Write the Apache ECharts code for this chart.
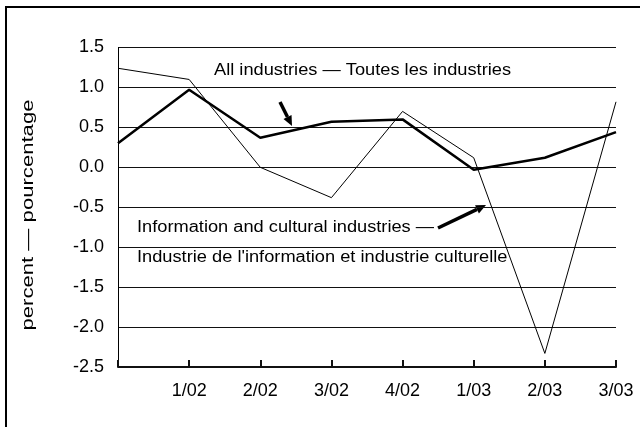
<!DOCTYPE html>
<html>
<head>
<meta charset="utf-8">
<script src="https://cdn.jsdelivr.net/npm/echarts@6/dist/echarts.min.js"></script>
<style>
  html, body { margin: 0; padding: 0; background: #fff; }
  #chart { width: 640px; height: 427px; }
</style>
</head>
<body>
<div id="chart"></div>
<script>
// quarters (first one has no label on the axis)
var quarters = ['4/01', '1/02', '2/02', '3/02', '4/02', '1/03', '2/03', '3/03'];
// All industries — Toutes les industries
var allIndustries = [0.30, 0.97, 0.37, 0.57, 0.60, -0.03, 0.12, 0.44];
// Information and cultural industries
var infoCultural = [1.24, 1.10, 0.00, -0.38, 0.70, 0.12, -2.33, 0.82];

var font = '"Liberation Sans", Arial, sans-serif';

// arrow made of a line + triangle head
function arrow(x1, y1, x2, y2) {
  var dx = x2 - x1, dy = y2 - y1;
  var len = Math.sqrt(dx * dx + dy * dy);
  var ux = dx / len, uy = dy / len;
  var hl = 10, hw = 4.5;
  var bx = x2 - ux * hl, by = y2 - uy * hl;
  return [
    { type: 'line', shape: { x1: x1, y1: y1, x2: bx, y2: by },
      style: { stroke: '#000', lineWidth: 3.5 } },
    { type: 'polygon', shape: { points: [[x2, y2], [bx - uy * hw, by + ux * hw], [bx + uy * hw, by - ux * hw]] },
      style: { fill: '#000' } }
  ];
}

function note(txt, x, y) {
  return { type: 'text', x: x, y: y, scaleX: 1.14,
    style: { text: txt, fill: '#000', font: '16px ' + font, textVerticalAlign: 'middle' } };
}

var myChart = echarts.init(document.getElementById('chart'));
var option = {
  animation: false,
  grid: { left: 118, right: 24, top: 47.5, bottom: 60 },
  xAxis: {
    type: 'category',
    boundaryGap: false,
    data: quarters,
    z: 5,
    axisLine: { show: true, onZero: false, lineStyle: { color: '#111', width: 2 } },
    axisTick: { show: true, inside: true, length: 7, lineStyle: { color: '#111', width: 2 } },
    axisLabel: {
      color: '#000', fontSize: 18, fontFamily: font, margin: 15,
      formatter: function (v, i) { return i === 0 ? '' : v; }
    },
    splitLine: { show: false }
  },
  yAxis: {
    type: 'value',
    min: -2.5, max: 1.5, interval: 0.5,
    axisLine: { show: true, lineStyle: { color: '#000', width: 1 } },
    axisTick: { show: false },
    axisLabel: {
      color: '#000', fontSize: 18, fontFamily: font, margin: 14,
      formatter: function (v) { return v.toFixed(1); }
    },
    splitLine: { lineStyle: { color: '#111', width: 1 } }
  },
  series: [
    {
      name: 'Information and cultural industries',
      type: 'line', data: infoCultural, symbol: 'none',
      lineStyle: { color: '#000', width: 1 }
    },
    {
      name: 'All industries',
      type: 'line', data: allIndustries, symbol: 'none',
      lineStyle: { color: '#000', width: 2.5 },
      // bottom baseline of the plot at the axis minimum
      markLine: {
        silent: true, symbol: 'none', label: { show: false },
        lineStyle: { color: '#000', width: 2, type: 'solid' },
        data: [{ yAxis: -2.5 }]
      }
    }
  ],
  graphic: [
    // outer frame (cropped on the right and bottom)
    { type: 'line', shape: { x1: 6, y1: 6, x2: 6, y2: 427 }, style: { stroke: '#000', lineWidth: 2 } },
    { type: 'line', shape: { x1: 5, y1: 7, x2: 640, y2: 7 }, style: { stroke: '#000', lineWidth: 2 } },
    { type: 'text', x: 28, y: 215, rotation: Math.PI / 2, scaleX: 1.3,
      style: { text: 'percent — pourcentage', fill: '#000', font: '17px ' + font,
               textAlign: 'center', textVerticalAlign: 'middle' } },
    note('All industries — Toutes les industries', 214, 71),
    note('Information and cultural industries —', 137, 228),
    note("Industrie de l'information et industrie culturelle", 137, 258)
  ].concat(arrow(280, 102, 292, 126)).concat(arrow(438, 228, 486, 205))
};
myChart.setOption(option);
</script>
</body>
</html>
